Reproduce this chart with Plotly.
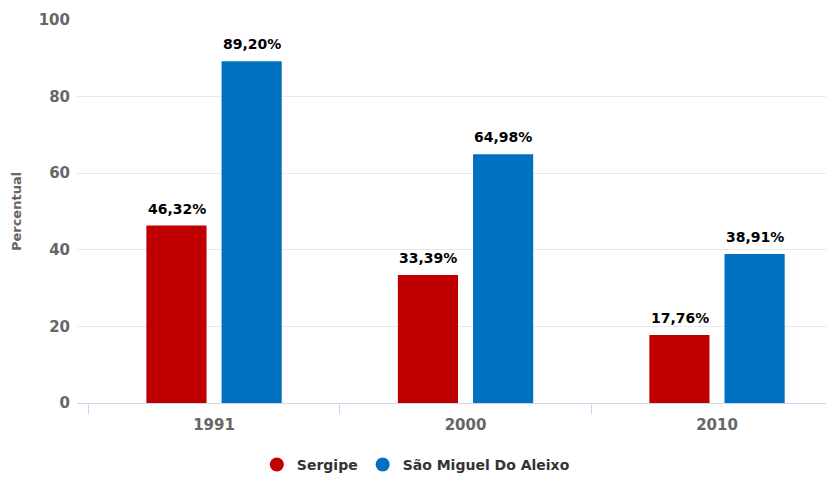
import plotly.graph_objects as go

years = ["1991", "2000", "2010"]
sergipe = [46.32, 33.39, 17.76]
sao_miguel = [89.20, 64.98, 38.91]
series_names = ["Sergipe", "São Miguel Do Aleixo"]
colors = ["#C00000", "#0070C0"]
y_ticks = [0, 20, 40, 60, 80, 100]

FONT = "DejaVu Sans"

def fmt(v):
    return f"{v:.2f}".replace(".", ",") + "%"

fig = go.Figure()
for name, vals, col in zip(series_names, [sergipe, sao_miguel], colors):
    fig.add_trace(go.Bar(x=years, y=vals, name=name, marker=dict(color=col, line=dict(width=0)),
                         showlegend=False, hoverinfo="skip"))
    fig.add_trace(go.Scatter(x=[None], y=[None], mode="markers", name=name,
                             marker=dict(color=col, size=14, symbol="circle")))

# data labels
for vals, shift in [(sergipe, -37.5), (sao_miguel, 37.5)]:
    for i, v in enumerate(vals):
        fig.add_annotation(x=i, y=v, xref="x", yref="y", text="<b>" + fmt(v) + "</b>",
                           showarrow=False, xshift=shift, yshift=7, yanchor="bottom",
                           font=dict(family=FONT, size=14, color="#000000"))

fig.update_layout(
    width=834, height=477,
    margin=dict(l=69, r=0, t=12, b=82, autoexpand=False),
    paper_bgcolor="white", plot_bgcolor="white",
    barmode="group", bargap=0.402, bargroupgap=0.2,
    font=dict(family=FONT, color="#666666"),
    legend=dict(orientation="h", xref="container", yref="container",
                x=0.489, xanchor="center", y=0.042, yanchor="middle",
                font=dict(family=FONT, size=14, color="#333333", weight="bold"),
                itemwidth=30, tracegroupgap=0),
    xaxis=dict(type="category", range=[-0.545, 2.497], showgrid=False, automargin=False,
               showline=True, linecolor="#CCD6EB", linewidth=1,
               ticks="outside", tickson="boundaries", ticklen=10, tickcolor="#CCD6EB",
               ticklabelstandoff=8,
               tickfont=dict(family=FONT, size=15, color="#666666", weight="bold")),
    yaxis=dict(range=[0, 100], tickvals=y_ticks, showgrid=True, gridcolor="#E6E9F0",
               zeroline=False, showline=False, ticks="", automargin=False,
               ticklabelstandoff=6,
               tickfont=dict(family=FONT, size=15, color="#666666", weight="bold"),
               title=dict(text="Percentual", standoff=14,
                          font=dict(family=FONT, size=13, color="#666666", weight="bold"))),
)

fig.write_html("out.html")
